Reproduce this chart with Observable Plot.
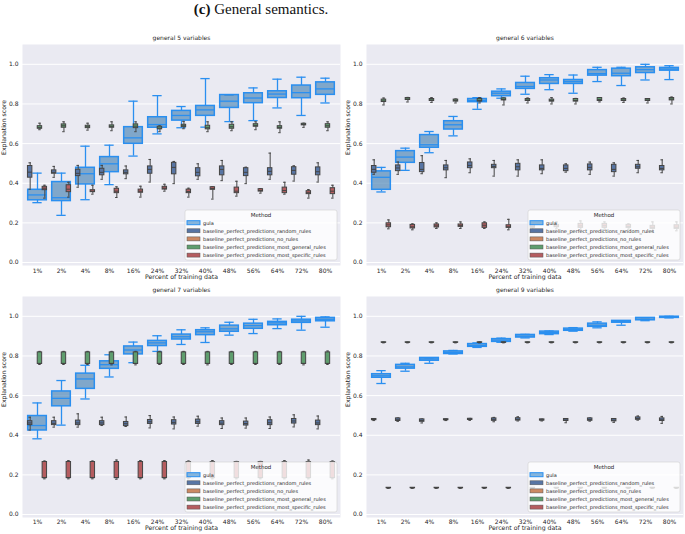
<!DOCTYPE html>
<html><head><meta charset="utf-8">
<script src="https://cdn.jsdelivr.net/npm/d3@7"></script>
<script src="https://cdn.jsdelivr.net/npm/@observablehq/plot@0.6"></script>
<style>
body{margin:0;background:#fff;}
#root{position:relative;width:685px;height:534px;overflow:hidden;font-family:"DejaVu Sans",sans-serif;}
.panel{position:absolute;}
#maintitle{position:absolute;left:261px;top:0px;transform:translateX(-50%);font-family:"Liberation Serif",serif;font-size:15px;white-space:nowrap;color:#111;line-height:18px;}
</style></head><body><div id="root"><div id="maintitle"><b>(c)</b> General semantics.</div></div>
<script>
const categories = ["1%","2%","4%","8%","16%","24%","32%","40%","48%","56%","64%","72%","80%"];
const methods = ["gula","baseline_perfect_predictions_random_rules","baseline_perfect_predictions_no_rules","baseline_perfect_predictions_most_general_rules","baseline_perfect_predictions_most_specific_rules"];
const yTicks = [0, 0.2, 0.4, 0.6, 0.8, 1.0];
const panelTitles = ["general 5 variables","general 6 variables","general 7 variables","general 9 variables"];
const xLabel = "Percent of training data";
const yLabel = "Explanation score";
const legendTitle = "Method";

// each entry: [lower whisker, q1, median, q3, upper whisker]
const g5_gula = [[0.302,0.314,0.341,0.367,0.451],[0.238,0.310,0.327,0.406,0.451],[0.317,0.394,0.448,0.478,0.587],[0.393,0.456,0.498,0.532,0.592],[0.537,0.599,0.629,0.683,0.814],[0.649,0.680,0.696,0.733,0.842],[0.680,0.716,0.742,0.765,0.787],[0.683,0.740,0.770,0.790,0.928],[0.711,0.780,0.814,0.845,0.845],[0.716,0.804,0.830,0.854,0.881],[0.780,0.830,0.850,0.864,0.925],[0.742,0.829,0.857,0.893,0.935],[0.805,0.846,0.876,0.909,0.930]];
const g5_random = [[0.370,0.428,0.456,0.487,0.503],[0.430,0.448,0.455,0.465,0.485],[0.380,0.436,0.450,0.468,0.490],[0.420,0.440,0.455,0.473,0.490],[0.423,0.445,0.455,0.465,0.487],[0.406,0.448,0.470,0.485,0.520],[0.398,0.445,0.480,0.503,0.510],[0.420,0.435,0.455,0.476,0.498],[0.413,0.440,0.470,0.485,0.515],[0.398,0.436,0.455,0.476,0.481],[0.420,0.440,0.460,0.476,0.552],[0.411,0.443,0.465,0.481,0.488],[0.406,0.440,0.458,0.480,0.503]];
const g5_general = [[0.670,0.675,0.680,0.688,0.703],[0.660,0.680,0.690,0.697,0.710],[0.668,0.678,0.685,0.690,0.703],[0.665,0.680,0.687,0.692,0.710],[0.660,0.678,0.688,0.697,0.710],[0.660,0.672,0.678,0.685,0.690],[0.675,0.683,0.690,0.695,0.712],[0.660,0.672,0.680,0.690,0.710],[0.665,0.675,0.685,0.695,0.710],[0.670,0.685,0.692,0.698,0.710],[0.655,0.675,0.682,0.688,0.710],[0.682,0.692,0.697,0.700,0.703],[0.665,0.680,0.690,0.698,0.710]];
const g5_specific = [[0.325,0.365,0.375,0.382,0.390],[0.330,0.355,0.370,0.390,0.405],[0.345,0.355,0.360,0.365,0.390],[0.328,0.350,0.360,0.372,0.382],[0.330,0.352,0.360,0.368,0.385],[0.360,0.368,0.375,0.382,0.395],[0.330,0.350,0.358,0.368,0.375],[0.320,0.367,0.373,0.380,0.382],[0.335,0.350,0.360,0.378,0.410],[0.350,0.358,0.363,0.370,0.373],[0.345,0.350,0.363,0.378,0.405],[0.325,0.345,0.352,0.360,0.368],[0.325,0.345,0.360,0.375,0.390]];

const g6_gula = [[0.356,0.367,0.430,0.460,0.480],[0.465,0.503,0.532,0.562,0.577],[0.554,0.579,0.594,0.643,0.661],[0.639,0.671,0.695,0.713,0.737],[0.773,0.809,0.817,0.825,0.832],[0.829,0.839,0.854,0.862,0.876],[0.849,0.876,0.888,0.906,0.940],[0.872,0.901,0.921,0.930,0.948],[0.854,0.901,0.913,0.921,0.946],[0.913,0.943,0.953,0.971,0.985],[0.893,0.940,0.955,0.978,0.985],[0.921,0.956,0.973,0.985,1.000],[0.923,0.968,0.976,0.982,0.993]];
const g6_random = [[0.445,0.453,0.470,0.487,0.518],[0.445,0.461,0.477,0.490,0.507],[0.448,0.456,0.470,0.502,0.539],[0.428,0.465,0.478,0.490,0.515],[0.453,0.476,0.490,0.505,0.523],[0.436,0.476,0.485,0.493,0.515],[0.436,0.465,0.483,0.498,0.518],[0.448,0.465,0.475,0.490,0.518],[0.456,0.461,0.475,0.490,0.498],[0.445,0.465,0.480,0.495,0.507],[0.436,0.456,0.470,0.493,0.503],[0.453,0.473,0.483,0.493,0.515],[0.453,0.465,0.475,0.487,0.518]];
const g6_general = [[0.795,0.810,0.815,0.822,0.830],[0.810,0.820,0.825,0.830,0.833],[0.808,0.815,0.820,0.825,0.832],[0.805,0.812,0.818,0.822,0.825],[0.805,0.812,0.818,0.825,0.832],[0.795,0.818,0.822,0.828,0.830],[0.805,0.815,0.820,0.825,0.830],[0.800,0.812,0.817,0.822,0.832],[0.800,0.812,0.818,0.825,0.828],[0.810,0.815,0.822,0.830,0.832],[0.808,0.815,0.820,0.825,0.830],[0.805,0.815,0.820,0.825,0.826],[0.800,0.818,0.825,0.830,0.835]];
const g6_specific = [[0.170,0.178,0.190,0.198,0.215],[0.165,0.172,0.180,0.190,0.195],[0.172,0.177,0.185,0.192,0.200],[0.172,0.180,0.186,0.192,0.205],[0.172,0.175,0.188,0.198,0.205],[0.165,0.175,0.180,0.188,0.218],[0.165,0.175,0.182,0.190,0.200],[0.170,0.178,0.184,0.190,0.205],[0.165,0.175,0.185,0.195,0.210],[0.168,0.175,0.186,0.195,0.205],[0.168,0.175,0.182,0.190,0.195],[0.158,0.170,0.178,0.185,0.205],[0.160,0.170,0.178,0.188,0.205]];

const g7_gula = [[0.382,0.424,0.449,0.497,0.563],[0.451,0.546,0.586,0.621,0.676],[0.583,0.634,0.684,0.711,0.753],[0.694,0.735,0.756,0.773,0.806],[0.766,0.808,0.830,0.848,0.870],[0.823,0.850,0.866,0.876,0.902],[0.858,0.883,0.897,0.908,0.932],[0.868,0.905,0.922,0.930,0.942],[0.905,0.922,0.937,0.953,0.970],[0.913,0.937,0.953,0.963,0.985],[0.938,0.955,0.967,0.972,0.987],[0.930,0.967,0.977,0.983,1.000],[0.945,0.975,0.985,0.992,0.997]];
const g7_random = [[0.426,0.451,0.462,0.471,0.491],[0.441,0.451,0.460,0.471,0.491],[0.441,0.451,0.462,0.474,0.508],[0.449,0.451,0.462,0.471,0.491],[0.444,0.446,0.458,0.467,0.492],[0.437,0.457,0.468,0.477,0.499],[0.432,0.454,0.465,0.476,0.492],[0.446,0.457,0.468,0.479,0.496],[0.434,0.451,0.461,0.471,0.487],[0.436,0.449,0.459,0.469,0.487],[0.434,0.451,0.463,0.476,0.492],[0.442,0.459,0.472,0.482,0.503],[0.432,0.451,0.462,0.474,0.497]];
const g7_general = [[0.757,0.760,0.762,0.818,0.823],[0.757,0.760,0.762,0.818,0.823],[0.757,0.760,0.762,0.818,0.823],[0.755,0.760,0.762,0.818,0.823],[0.755,0.760,0.762,0.818,0.823],[0.757,0.760,0.762,0.818,0.823],[0.757,0.760,0.762,0.818,0.823],[0.755,0.760,0.762,0.818,0.823],[0.757,0.760,0.762,0.818,0.823],[0.757,0.760,0.762,0.818,0.823],[0.757,0.760,0.762,0.818,0.823],[0.755,0.760,0.762,0.818,0.823],[0.757,0.760,0.762,0.818,0.825]];
const g7_specific = [[0.180,0.184,0.186,0.265,0.270],[0.180,0.184,0.186,0.265,0.272],[0.180,0.184,0.186,0.265,0.270],[0.178,0.184,0.186,0.265,0.275],[0.180,0.184,0.186,0.265,0.272],[0.180,0.184,0.186,0.265,0.272],[0.180,0.184,0.186,0.265,0.270],[0.180,0.184,0.186,0.265,0.272],[0.180,0.184,0.186,0.265,0.268],[0.180,0.184,0.186,0.265,0.268],[0.180,0.184,0.186,0.265,0.272],[0.180,0.184,0.186,0.265,0.275],[0.180,0.184,0.186,0.265,0.270]];

const g9_gula = [[0.661,0.690,0.700,0.708,0.726],[0.723,0.736,0.745,0.755,0.763],[0.763,0.776,0.785,0.790,0.790],[0.810,0.810,0.818,0.823,0.828],[0.843,0.846,0.853,0.860,0.866],[0.869,0.871,0.880,0.885,0.890],[0.891,0.893,0.900,0.906,0.909],[0.908,0.910,0.918,0.923,0.926],[0.925,0.927,0.933,0.938,0.943],[0.942,0.947,0.955,0.963,0.972],[0.955,0.968,0.972,0.977,0.977],[0.978,0.980,0.985,0.992,0.993],[0.992,0.992,0.995,0.998,1.000]];
const g9_random = [[0.474,0.476,0.479,0.482,0.484],[0.470,0.472,0.478,0.485,0.487],[0.462,0.468,0.474,0.480,0.482],[0.474,0.476,0.478,0.481,0.482],[0.475,0.477,0.480,0.483,0.485],[0.468,0.473,0.478,0.485,0.490],[0.472,0.474,0.480,0.486,0.493],[0.472,0.474,0.477,0.480,0.481],[0.463,0.472,0.477,0.482,0.484],[0.471,0.473,0.479,0.485,0.487],[0.465,0.470,0.476,0.482,0.484],[0.476,0.478,0.484,0.490,0.497],[0.460,0.472,0.478,0.485,0.495]];
const g9_general = [[0.866,0.867,0.868,0.869,0.870],[0.866,0.867,0.868,0.869,0.870],[0.866,0.867,0.868,0.869,0.870],[0.866,0.867,0.868,0.869,0.870],[0.866,0.867,0.868,0.869,0.871],[0.866,0.867,0.868,0.869,0.870],[0.866,0.867,0.868,0.869,0.870],[0.866,0.867,0.868,0.869,0.870],[0.866,0.867,0.868,0.869,0.870],[0.866,0.867,0.868,0.869,0.870],[0.866,0.867,0.868,0.869,0.870],[0.866,0.867,0.868,0.869,0.870],[0.866,0.867,0.868,0.869,0.870]];
const g9_specific = [[0.132,0.133,0.134,0.135,0.136],[0.132,0.133,0.134,0.135,0.136],[0.132,0.133,0.134,0.135,0.136],[0.132,0.133,0.134,0.135,0.136],[0.132,0.133,0.134,0.135,0.136],[0.132,0.133,0.134,0.135,0.136],[0.132,0.133,0.134,0.135,0.136],[0.132,0.133,0.134,0.135,0.136],[0.132,0.133,0.134,0.135,0.136],[0.132,0.133,0.134,0.135,0.136],[0.132,0.133,0.134,0.135,0.136],[0.132,0.133,0.134,0.135,0.136],[0.132,0.133,0.134,0.135,0.136]];

// styles (per method index)
const styles = [
  {fill: "#4682b4", fillOpacity: 0.65, stroke: "#2a8ff0", offset: 0, boxW: 0.78, capW: 0.4, lineW: 1.3, boxLineW: 1.5, legendFill: "#86b5dc"},
  {fill: "#5875a4", fillOpacity: 1, stroke: "#444", offset: -0.3, boxW: 0.2, capW: 0.12, lineW: 1, boxLineW: 1, legendFill: "#5875a4"},
  {fill: "#cc8963", fillOpacity: 1, stroke: "#444", offset: -0.1, boxW: 0.2, capW: 0.12, lineW: 1, boxLineW: 1, legendFill: "#cc8963"},
  {fill: "#5f9e6e", fillOpacity: 1, stroke: "#444", offset: 0.1, boxW: 0.2, capW: 0.12, lineW: 1, boxLineW: 1, legendFill: "#5f9e6e"},
  {fill: "#b55d60", fillOpacity: 1, stroke: "#444", offset: 0.3, boxW: 0.2, capW: 0.12, lineW: 1, boxLineW: 1, legendFill: "#b55d60"}
];

const panels = [
  {title: panelTitles[0], series: [g5_gula, g5_random, null, g5_general, g5_specific], left: 0, top: 30, width: 343, height: 252, mL: 22, mR: 3, mT: 14, mB: 17, xlDy: 12, tp: 3},
  {title: panelTitles[1], series: [g6_gula, g6_random, null, g6_general, g6_specific], left: 343, top: 30, width: 342, height: 252, mL: 23, mR: 2, mT: 14, mB: 17, xlDy: 12, tp: 3},
  {title: panelTitles[2], series: [g7_gula, g7_random, null, g7_general, g7_specific], left: 0, top: 282, width: 343, height: 252, mL: 22, mR: 3, mT: 14, mB: 17, xlDy: 11, tp: 2},
  {title: panelTitles[3], series: [g9_gula, g9_random, null, g9_general, g9_specific], left: 343, top: 282, width: 342, height: 252, mL: 23, mR: 2, mT: 14, mB: 17, xlDy: 11, tp: 2}
];

const toRows = arr => arr.map((v, i) => ({cat: categories[i], lo: v[0], q1: v[1], med: v[2], q3: v[3], hi: v[4]}));

function boxMarks(data, st, bw) {
  const insL = bw * (0.5 + st.offset - st.boxW / 2);
  const insR = bw * (0.5 - st.offset - st.boxW / 2);
  const capL = bw * (0.5 + st.offset - st.capW / 2);
  const capR = bw * (0.5 - st.offset - st.capW / 2);
  const dx = st.offset * bw;
  const line = {stroke: st.stroke, strokeWidth: st.lineW};
  return [
    Plot.ruleX(data, {x: "cat", y1: "lo", y2: "q1", dx, ...line}),
    Plot.ruleX(data, {x: "cat", y1: "q3", y2: "hi", dx, ...line}),
    Plot.tickY(data, {x: "cat", y: "lo", insetLeft: capL, insetRight: capR, ...line}),
    Plot.tickY(data, {x: "cat", y: "hi", insetLeft: capL, insetRight: capR, ...line}),
    Plot.barY(data, {x: "cat", y1: "q1", y2: "q3", insetLeft: insL, insetRight: insR, fill: st.fill, fillOpacity: st.fillOpacity, stroke: st.stroke, strokeWidth: st.boxLineW}),
    Plot.tickY(data, {x: "cat", y: "med", insetLeft: insL, insetRight: insR, ...line})
  ];
}

const root = document.getElementById("root");

for (const p of panels) {
  const bw = (p.width - p.mL - p.mR) / categories.length;
  const marks = [
    Plot.frame({fill: "#eaeaf2", stroke: "none"}),
    Plot.ruleY(yTicks, {stroke: "white", strokeWidth: 1})
  ];
  p.series.forEach((s, k) => { if (s) marks.push(...boxMarks(toRows(s), styles[k], bw)); });
  marks.push(
    Plot.text([p.title], {text: d => d, frameAnchor: "top", lineAnchor: "middle", dy: -6, fontSize: 6, fill: "#262626"}),
    Plot.text([xLabel], {text: d => d, frameAnchor: "bottom", lineAnchor: "middle", dy: p.xlDy, fontSize: 6.2, fill: "#262626"}),
    Plot.text([yLabel], {text: d => d, frameAnchor: "left", rotate: -90, dx: -18, fontSize: 6.2, fill: "#262626"})
  );
  const svg = Plot.plot({
    width: p.width, height: p.height,
    marginLeft: p.mL, marginRight: p.mR, marginTop: p.mT, marginBottom: p.mB,
    style: {fontSize: "6px", fontFamily: "DejaVu Sans", color: "#262626", background: "transparent", overflow: "visible"},
    x: {type: "band", domain: categories, padding: 0, tickSize: 0, tickPadding: p.tp, label: null},
    y: {domain: [-0.015, 1.1], ticks: yTicks, tickFormat: d => d.toFixed(1), tickSize: 0, tickPadding: 4, label: null},
    marks
  });

  // legend overlay in the lower right of the plot area
  const lw = 152, lh = 50;
  const lx = p.width - p.mR - 3 - lw;
  const ly = p.height - p.mB - 5 - lh;
  const g = d3.select(svg).append("g").attr("font-family", "DejaVu Sans").attr("fill", "#262626").attr("text-anchor", "start");
  g.append("rect").attr("x", lx).attr("y", ly).attr("width", lw).attr("height", lh)
    .attr("rx", 2).attr("fill", "white").attr("fill-opacity", 0.8).attr("stroke", "#d0d0d0").attr("stroke-width", 0.6);
  g.append("text").attr("x", lx + lw / 2).attr("y", ly + 4.6).attr("text-anchor", "middle")
    .attr("dominant-baseline", "central").attr("font-size", 5.5).text(legendTitle);
  methods.forEach((m, i) => {
    const ry = ly + 12.7 + 8.1 * i;
    const st = styles[i];
    g.append("rect").attr("x", lx + 2).attr("y", ry - 2).attr("width", 13).attr("height", 4)
      .attr("fill", st.legendFill).attr("stroke", i === 0 ? st.stroke : "#555")
      .attr("stroke-width", i === 0 ? 1 : 0.5);
    g.append("text").attr("x", lx + 18).attr("y", ry).attr("text-anchor", "start").attr("dominant-baseline", "central")
      .attr("font-size", 5).text(m);
  });

  const div = document.createElement("div");
  div.className = "panel";
  div.style.left = p.left + "px";
  div.style.top = p.top + "px";
  div.style.width = p.width + "px";
  div.style.height = p.height + "px";
  div.appendChild(svg);
  root.appendChild(div);
}
</script></body></html>
